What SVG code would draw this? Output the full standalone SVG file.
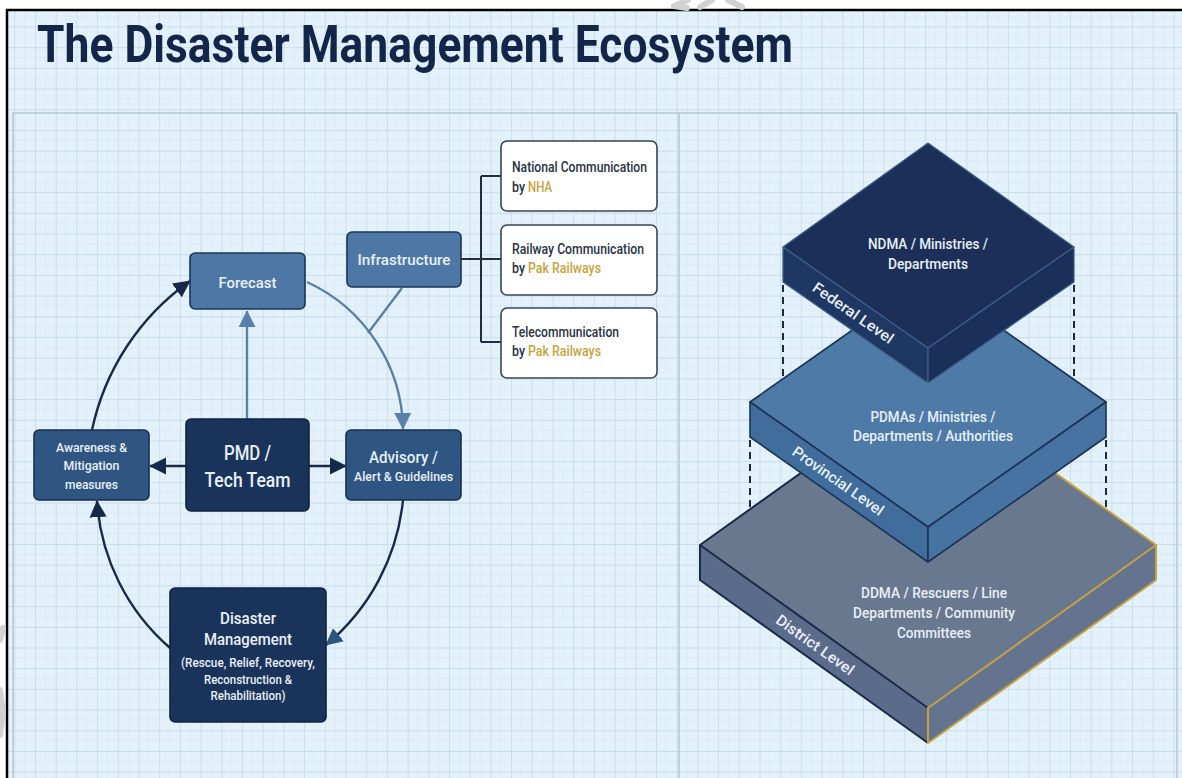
<svg xmlns="http://www.w3.org/2000/svg" width="1182" height="778" viewBox="0 0 1182 778">
  <style>
    .t { font-family: Roboto, "Liberation Sans", Arial, sans-serif; font-weight: 500; }
    .lt { fill: #e9eff7; text-anchor: middle; }
    .dk { fill: #283244; }
    .gold { fill: #c9a23c; }
    .node-mid { fill: #4d78a5; stroke: #1c3456; stroke-width: 1.6; }
    .node-sec { fill: #2f5682; stroke: #1a2f50; stroke-width: 1.6; }
    .node-dark { fill: #1a335a; stroke: #122443; stroke-width: 1.6; }
    .node-white { fill: #ffffff; stroke: #384455; stroke-width: 1.6; }
    .ln-dark { fill: none; stroke: #182a47; stroke-width: 2.4; }
    .ln-mid { fill: none; stroke: #5b7fa5; stroke-width: 2.4; }
    .dash { fill: none; stroke: #1a2a44; stroke-width: 2; stroke-dasharray: 7 5; }
    .edge-navy { fill: none; stroke: #1b2a48; stroke-width: 2; stroke-linejoin: round; }
    .edge-gold { fill: none; stroke: #c8a042; stroke-width: 2; stroke-linejoin: round; }
    .wm { fill: none; stroke: #d2d2d2; stroke-width: 6; stroke-linecap: round; stroke-linejoin: round; }
  </style>
  <defs>
    <pattern id="grid" x="14.3" y="5.8" width="20.7" height="20.7" patternUnits="userSpaceOnUse">
      <path d="M10.35 0 V20.7 M0 10.35 H20.7" stroke="#d9eaf4" stroke-width="0.8" fill="none"/>
      <path d="M0.5 0 V20.7 M0 0.5 H20.7" stroke="#c9deeb" stroke-width="1" fill="none"/>
    </pattern>
    <marker id="ah-dark" viewBox="0 0 10 10" refX="9.5" refY="5" markerWidth="17" markerHeight="18" markerUnits="userSpaceOnUse" orient="auto">
      <path d="M0,0 L10,5 L0,10 z" fill="#152848"/>
    </marker>
    <marker id="ah-mid" viewBox="0 0 10 10" refX="9.5" refY="5" markerWidth="17" markerHeight="17" markerUnits="userSpaceOnUse" orient="auto">
      <path d="M0,0 L10,5 L0,10 z" fill="#5a80a8"/>
    </marker>
    <marker id="ah-sec" viewBox="0 0 10 10" refX="9.5" refY="5" markerWidth="17" markerHeight="18" markerUnits="userSpaceOnUse" orient="auto">
      <path d="M0,0 L10,5 L0,10 z" fill="#2e5580"/>
    </marker>
  </defs>

  <!-- page, frame and grid -->
  <rect x="0" y="0" width="1182" height="778" fill="#ffffff"/>
  <rect x="7" y="10" width="1175" height="768" fill="#e3f1fa"/>
  <rect x="7" y="10" width="1175" height="768" fill="url(#grid)"/>
  <rect x="13" y="113" width="1164" height="672" fill="none" stroke="#b5cad8" stroke-width="1.6"/>
  <line x1="679" y1="113" x2="679" y2="778" stroke="#b5cad8" stroke-width="1.6"/>
  <path d="M7 778 V10 H1182" fill="none" stroke="#000000" stroke-width="2.5"/>

  <!-- faint marks in the margins -->
  <polyline class="wm" points="688,0 674,6 687,8"/>
  <line class="wm" x1="712" y1="0" x2="700" y2="7"/>
  <line class="wm" x1="728" y1="0" x2="742" y2="7"/>
  <polyline class="wm" points="0,640 3,628"/>
  <polyline class="wm" points="0,690 3,712 0,735"/>

  <!-- title -->
  <text class="t" x="37" y="62" font-size="52" font-weight="700" fill="#13264a" textLength="756" lengthAdjust="spacingAndGlyphs" style="font-weight:700">The Disaster Management Ecosystem</text>

  <!-- connectors -->
  <g id="connectors">
    <!-- cycle -->
    <path class="ln-dark" d="M92,430 A245,245 0 0 1 190,281" marker-end="url(#ah-dark)"/>
    <path class="ln-mid" d="M307,282 A165,165 0 0 1 403,429" marker-end="url(#ah-mid)"/>
    <path class="ln-dark" d="M403,500 A216,216 0 0 1 326,645" marker-end="url(#ah-sec)"/>
    <path class="ln-dark" d="M170,648 A213,213 0 0 1 97,501" marker-end="url(#ah-dark)"/>
    <!-- hub -->
    <line class="ln-mid" x1="247" y1="419" x2="247" y2="311" marker-end="url(#ah-mid)"/>
    <line class="ln-dark" x1="186" y1="466" x2="150" y2="466" marker-end="url(#ah-dark)"/>
    <line class="ln-dark" x1="309" y1="466" x2="346" y2="466" marker-end="url(#ah-dark)"/>
    <!-- infrastructure -->
    <line class="ln-mid" x1="402" y1="288" x2="368" y2="333"/>
    <path d="M461,259 H481 M481,176 V342 M481,176 H501 M481,259 H501 M481,342 H501" fill="none" stroke="#1f2e44" stroke-width="2"/>
  </g>

  <!-- left: cycle nodes -->
  <g id="forecast">
    <rect class="node-mid" x="190" y="253" width="115" height="56" rx="5"/>
    <text class="t lt" x="247.5" y="288" font-size="15.5" textLength="58" lengthAdjust="spacingAndGlyphs">Forecast</text>
  </g>
  <g id="infrastructure">
    <rect class="node-mid" x="347" y="232" width="114" height="55" rx="5"/>
    <text class="t lt" x="404" y="265" font-size="15.5" textLength="93" lengthAdjust="spacingAndGlyphs">Infrastructure</text>
  </g>
  <g id="pmd">
    <rect class="node-dark" x="186" y="419" width="123" height="92" rx="5"/>
    <text class="t lt" x="247.5" y="460" font-size="21" textLength="47" lengthAdjust="spacingAndGlyphs">PMD /</text>
    <text class="t lt" x="247.5" y="487" font-size="21" textLength="86" lengthAdjust="spacingAndGlyphs">Tech Team</text>
  </g>
  <g id="awareness">
    <rect class="node-sec" x="34" y="430" width="115" height="70" rx="5"/>
    <text class="t lt" x="91.5" y="452" font-size="13.5" textLength="71" lengthAdjust="spacingAndGlyphs">Awareness &amp;</text>
    <text class="t lt" x="91.5" y="470" font-size="13.5" textLength="56" lengthAdjust="spacingAndGlyphs">Mitigation</text>
    <text class="t lt" x="91.5" y="489" font-size="13.5" textLength="53" lengthAdjust="spacingAndGlyphs">measures</text>
  </g>
  <g id="advisory">
    <rect class="node-sec" x="346" y="430" width="115" height="70" rx="5"/>
    <text class="t lt" x="403.5" y="463" font-size="16" textLength="69" lengthAdjust="spacingAndGlyphs">Advisory /</text>
    <text class="t lt" x="403.5" y="481" font-size="13" textLength="99" lengthAdjust="spacingAndGlyphs">Alert &amp; Guidelines</text>
  </g>
  <g id="disaster-management">
    <rect class="node-dark" x="170" y="588" width="156" height="134" rx="5" fill="#172d52"/>
    <text class="t lt" x="248" y="624" font-size="16" textLength="56" lengthAdjust="spacingAndGlyphs">Disaster</text>
    <text class="t lt" x="248" y="645" font-size="16" textLength="88" lengthAdjust="spacingAndGlyphs">Management</text>
    <text class="t lt" x="248" y="667" font-size="12.5" textLength="134" lengthAdjust="spacingAndGlyphs">(Rescue, Relief, Recovery,</text>
    <text class="t lt" x="248" y="684" font-size="12.5" textLength="88" lengthAdjust="spacingAndGlyphs">Reconstruction &amp;</text>
    <text class="t lt" x="248" y="700" font-size="12.5" textLength="75" lengthAdjust="spacingAndGlyphs">Rehabilitation)</text>
  </g>

  <!-- left: communication channels -->
  <g id="national-communication">
    <rect class="node-white" x="501" y="141" width="156" height="70" rx="6"/>
    <text class="t dk" x="512" y="172" font-size="14" textLength="135" lengthAdjust="spacingAndGlyphs">National Communication</text>
    <text class="t dk" x="512" y="192" font-size="14" textLength="13" lengthAdjust="spacingAndGlyphs">by</text>
    <text class="t gold" x="528" y="192" font-size="14" textLength="24" lengthAdjust="spacingAndGlyphs">NHA</text>
  </g>
  <g id="railway-communication">
    <rect class="node-white" x="501" y="225" width="156" height="70" rx="6"/>
    <text class="t dk" x="512" y="254" font-size="14" textLength="132" lengthAdjust="spacingAndGlyphs">Railway Communication</text>
    <text class="t dk" x="512" y="273" font-size="14" textLength="13" lengthAdjust="spacingAndGlyphs">by</text>
    <text class="t gold" x="528" y="273" font-size="14" textLength="73" lengthAdjust="spacingAndGlyphs">Pak Railways</text>
  </g>
  <g id="telecommunication">
    <rect class="node-white" x="501" y="308" width="156" height="70" rx="6"/>
    <text class="t dk" x="512" y="337" font-size="14" textLength="107" lengthAdjust="spacingAndGlyphs">Telecommunication</text>
    <text class="t dk" x="512" y="356" font-size="14" textLength="13" lengthAdjust="spacingAndGlyphs">by</text>
    <text class="t gold" x="528" y="356" font-size="14" textLength="73" lengthAdjust="spacingAndGlyphs">Pak Railways</text>
  </g>

  <!-- right: stacked governance levels -->
  <g id="district-level">
    <polygon points="928,382 1156,545 928,708 700,545" fill="#68788f"/>
    <polygon points="700,545 928,708 928,743 700,580" fill="#5b6c8b"/>
    <polygon points="928,708 1156,545 1156,580 928,743" fill="#64748e"/>
    <path class="edge-navy" d="M928,382 L700,545 L928,708 M700,545 V580 L928,743"/>
    <path class="edge-gold" d="M928,382 L1156,545 L928,708 V743 L1156,580 V545"/>
    <text class="t lt" x="934" y="598" font-size="15" textLength="146" lengthAdjust="spacingAndGlyphs">DDMA / Rescuers / Line</text>
    <text class="t lt" x="934" y="618" font-size="15" textLength="162" lengthAdjust="spacingAndGlyphs">Departments / Community</text>
    <text class="t lt" x="934" y="638" font-size="15" textLength="74" lengthAdjust="spacingAndGlyphs">Committees</text>
    <text class="t lt" transform="translate(815,645) rotate(35.6)" x="0" y="5" font-size="15" textLength="92" lengthAdjust="spacingAndGlyphs">District Level</text>
  </g>
  <g id="links-lower">
    <line class="dash" x1="750" y1="440" x2="750" y2="508"/>
    <line class="dash" x1="1106" y1="440" x2="1106" y2="508"/>
  </g>
  <g id="provincial-level">
    <polygon points="928,277 1106,402 928,527 750,402" fill="#4e7aa8" stroke="#1b3356" stroke-width="1.6" stroke-linejoin="round"/>
    <polygon points="750,402 928,527 928,562 750,437" fill="#406d9b" stroke="#1b3356" stroke-width="1.6" stroke-linejoin="round"/>
    <polygon points="928,527 1106,402 1106,437 928,562" fill="#4673a2" stroke="#1b3356" stroke-width="1.6" stroke-linejoin="round"/>
    <text class="t lt" x="933" y="422" font-size="15" textLength="125" lengthAdjust="spacingAndGlyphs">PDMAs / Ministries /</text>
    <text class="t lt" x="933" y="441" font-size="15" textLength="160" lengthAdjust="spacingAndGlyphs">Departments / Authorities</text>
    <text class="t lt" transform="translate(838,481) rotate(35.1)" x="0" y="5" font-size="15" textLength="108" lengthAdjust="spacingAndGlyphs">Provincial Level</text>
  </g>
  <g id="links-upper">
    <line class="dash" x1="783" y1="285" x2="783" y2="378"/>
    <line class="dash" x1="1074" y1="285" x2="1074" y2="379"/>
  </g>
  <g id="federal-level">
    <polygon points="928,143 1074,247 928,348 783,247" fill="#1b2f59" stroke="#3f5f8b" stroke-width="1.2" stroke-linejoin="round"/>
    <polygon points="783,247 928,348 928,383 783,282" fill="#1f3763" stroke="#3f5f8b" stroke-width="1.2" stroke-linejoin="round"/>
    <polygon points="928,348 1074,247 1074,282 928,383" fill="#1a305b" stroke="#3f5f8b" stroke-width="1.2" stroke-linejoin="round"/>
    <text class="t lt" x="928" y="249" font-size="15.5" textLength="120" lengthAdjust="spacingAndGlyphs">NDMA / Ministries /</text>
    <text class="t lt" x="928" y="269" font-size="15.5" textLength="80" lengthAdjust="spacingAndGlyphs">Departments</text>
    <text class="t lt" transform="translate(853,313) rotate(34.9)" x="0" y="5" font-size="15" textLength="95" lengthAdjust="spacingAndGlyphs">Federal Level</text>
  </g>
</svg>
